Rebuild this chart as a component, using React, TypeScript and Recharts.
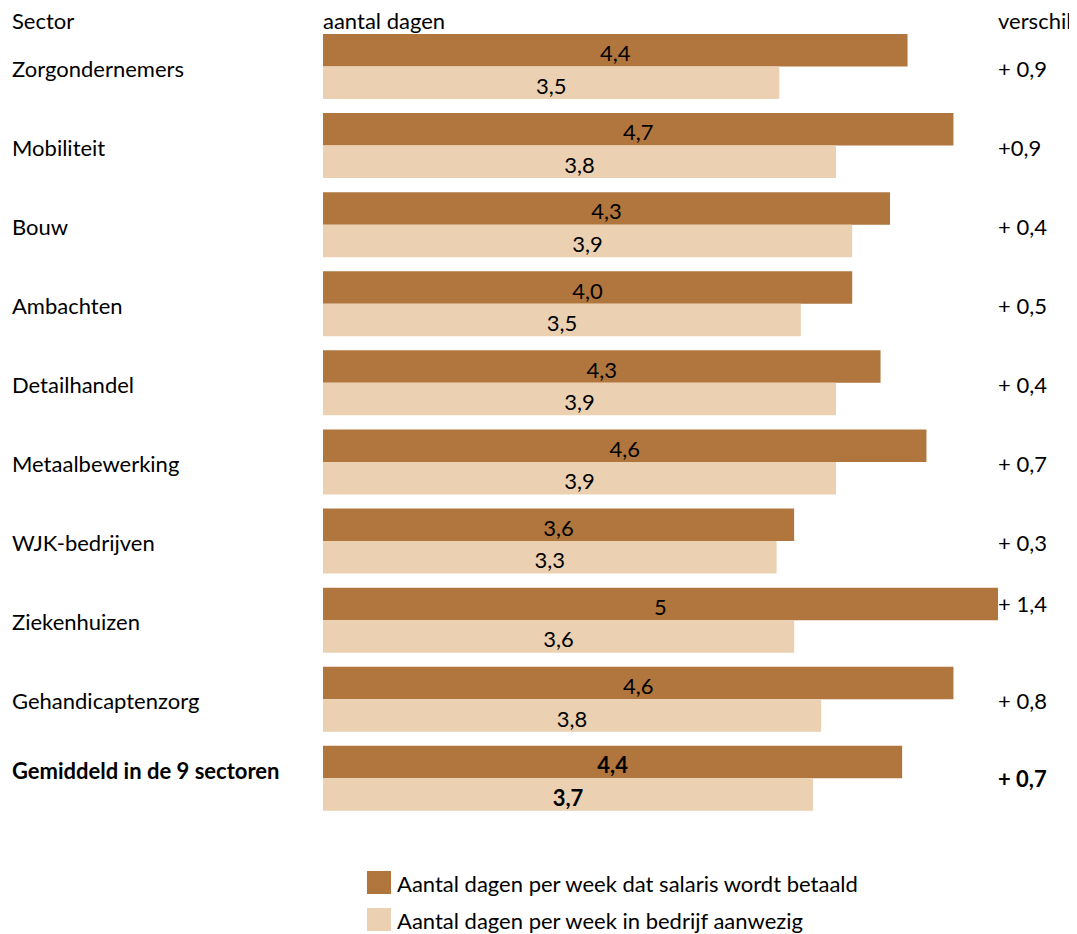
import React from 'react';
import { BarChart, Bar, XAxis, YAxis, LabelList } from 'recharts';

const sectors = [
  'Zorgondernemers',
  'Mobiliteit',
  'Bouw',
  'Ambachten',
  'Detailhandel',
  'Metaalbewerking',
  'WJK-bedrijven',
  'Ziekenhuizen',
  'Gehandicaptenzorg',
  'Gemiddeld in de 9 sectoren',
];
const paidDays = [4.33, 4.67, 4.2, 3.92, 4.13, 4.47, 3.49, 5.0, 4.67, 4.29];
const presentDays = [3.38, 3.8, 3.92, 3.54, 3.8, 3.8, 3.36, 3.49, 3.69, 3.63];
const paidLabels = ['4,4', '4,7', '4,3', '4,0', '4,3', '4,6', '3,6', '5', '4,6', '4,4'];
const presentLabels = ['3,5', '3,8', '3,9', '3,5', '3,9', '3,9', '3,3', '3,6', '3,8', '3,7'];
const differences = ['+ 0,9', '+0,9', '+ 0,4', '+ 0,5', '+ 0,4', '+ 0,7', '+ 0,3', '+ 1,4', '+ 0,8', '+ 0,7'];

const PAID_COLOR = '#B0763D';
const PRESENT_COLOR = '#EBD1B2';
const FONT = 'Lato, "Open Sans", sans-serif';
const FONT_SIZE = 22;
const LAST = sectors.length - 1;

const rows = sectors.map((sector, i) => ({
  sector,
  paid: paidDays[i],
  present: presentDays[i],
  paidLabel: paidLabels[i],
  presentLabel: presentLabels[i],
  diff: differences[i],
}));

const SectorTick = (props: any) => {
  const { x, y, width, index, payload } = props;
  const bold = index === LAST;
  return (
    <text
      x={x - width + 12}
      y={y + (bold ? 1 : 10)}
      fontFamily={FONT}
      fontSize={FONT_SIZE}
      fontWeight={bold ? 700 : 400}
      fill="#000"
    >
      {payload.value}
    </text>
  );
};

const DiffTick = (props: any) => {
  const { x, y, index } = props;
  const bold = index === LAST;
  // Ziekenhuizen: label sits next to the paid bar
  const dy = index === 7 ? -8 : bold ? 9 : 10;
  return (
    <text x={x} y={y + dy} fontFamily={FONT} fontSize={FONT_SIZE} fontWeight={bold ? 700 : 400} fill="#000">
      {rows[index].diff}
    </text>
  );
};

const BarText = (props: any) => {
  const { x, y, width, height, value, index } = props;
  return (
    <text
      x={x + width / 2}
      y={y + height / 2 + 11}
      textAnchor="middle"
      fontFamily={FONT}
      fontSize={FONT_SIZE}
      fontWeight={index === LAST ? 700 : 400}
      fill="#000"
    >
      {value}
    </text>
  );
};

export default function App() {
  return (
    <div style={{ position: 'relative', width: 1069, height: 926 }}>
      <div style={{ position: 'absolute', left: -8, top: -8, width: 1077, height: 934, background: '#fff' }}>
        <BarChart
          layout="vertical"
          width={1077}
          height={860}
          data={rows}
          margin={{ top: 26.95, right: 0, bottom: 42.05, left: 0 }}
          barSize={32.5}
          barGap={0}
        >
          <XAxis type="number" domain={[0, 5]} hide />
          <YAxis
            yAxisId="left"
            type="category"
            dataKey="sector"
            width={323}
            axisLine={false}
            tickLine={false}
            tickSize={0}
            tickMargin={0}
            tick={<SectorTick />}
            interval={0}
          />
          <YAxis
            yAxisId="right"
            orientation="right"
            type="category"
            dataKey="sector"
            width={79}
            axisLine={false}
            tickLine={false}
            tickSize={0}
            tickMargin={0}
            tick={<DiffTick />}
            interval={0}
          />
          <Bar yAxisId="left" dataKey="paid" fill={PAID_COLOR} isAnimationActive={false}>
            <LabelList dataKey="paidLabel" content={<BarText />} />
          </Bar>
          <Bar yAxisId="left" dataKey="present" fill={PRESENT_COLOR} isAnimationActive={false}>
            <LabelList dataKey="presentLabel" content={<BarText />} />
          </Bar>
        </BarChart>
        <svg
          width={1077}
          height={934}
          style={{ position: 'absolute', left: 0, top: 0, pointerEvents: 'none' }}
          fontFamily={FONT}
          fontSize={FONT_SIZE}
          fill="#000"
        >
          <text x={12} y={29}>Sector</text>
          <text x={323} y={29}>aantal dagen</text>
          <text x={998} y={29}>verschil</text>
          <rect x={367} y={871} width={24} height={23} fill={PAID_COLOR} />
          <text x={397} y={892}>Aantal dagen per week dat salaris wordt betaald</text>
          <rect x={367} y={908} width={24} height={23} fill={PRESENT_COLOR} />
          <text x={397} y={929}>Aantal dagen per week in bedrijf aanwezig</text>
        </svg>
      </div>
    </div>
  );
}
